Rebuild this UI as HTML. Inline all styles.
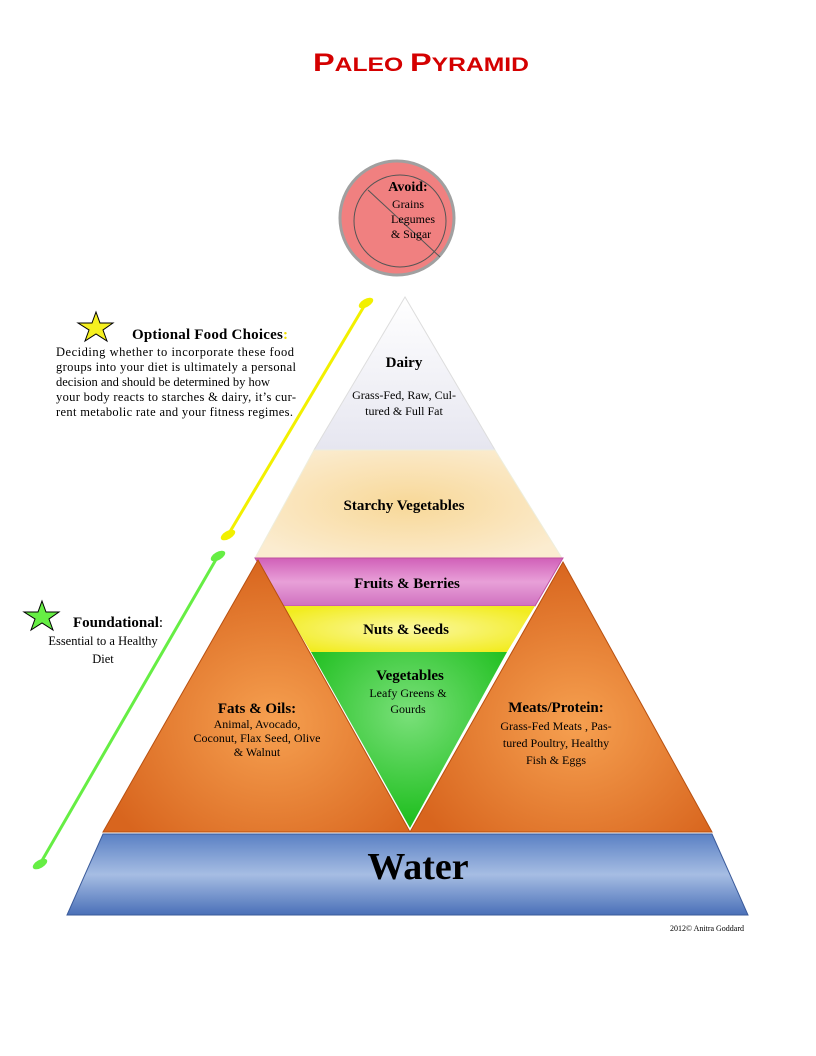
<!DOCTYPE html>
<html><head><meta charset="utf-8"><style>
body{margin:0;background:#fff}
svg{display:block}
text{font-family:"Liberation Serif",serif;fill:#000}
</style></head><body>
<svg width="816" height="1056" viewBox="0 0 816 1056" xmlns="http://www.w3.org/2000/svg">
<defs>
<radialGradient id="org" cx="0.55" cy="0.6" r="0.6"><stop offset="0" stop-color="#f6a050"/><stop offset="1" stop-color="#d8651e"/></radialGradient>
<radialGradient id="grn" cx="0.5" cy="0.35" r="0.6"><stop offset="0" stop-color="#7ae07a"/><stop offset="1" stop-color="#22c022"/></radialGradient>
<linearGradient id="dairy" x1="0" y1="0" x2="0" y2="1"><stop offset="0" stop-color="#ffffff"/><stop offset="1" stop-color="#e6e6f0"/></linearGradient>
<radialGradient id="starch" cx="0.5" cy="0.5" r="0.6"><stop offset="0" stop-color="#f8d898"/><stop offset="1" stop-color="#fbecd0"/></radialGradient>
<linearGradient id="fruit" x1="0" y1="0" x2="0" y2="1"><stop offset="0" stop-color="#d060b8"/><stop offset="0.5" stop-color="#e8a0d8"/><stop offset="1" stop-color="#d070c0"/></linearGradient>
<radialGradient id="nut" cx="0.5" cy="0.5" r="0.6"><stop offset="0" stop-color="#fbf8a0"/><stop offset="1" stop-color="#f2ec20"/></radialGradient>
<linearGradient id="water" x1="0" y1="0" x2="0" y2="1"><stop offset="0" stop-color="#5a80c4"/><stop offset="0.5" stop-color="#a6bde3"/><stop offset="1" stop-color="#4a70b8"/></linearGradient>
</defs>
<text x="313" y="71" font-weight="bold" style="fill:#d40000;font-family:'Liberation Sans',sans-serif" textLength="216" lengthAdjust="spacingAndGlyphs"><tspan font-size="25">P</tspan><tspan font-size="19">ALEO </tspan><tspan font-size="25">P</tspan><tspan font-size="19">YRAMID</tspan></text>

<circle cx="397" cy="218" r="57" fill="#f08080" stroke="#a0a0a0" stroke-width="3"/>
<circle cx="400" cy="221" r="46" fill="none" stroke="#555" stroke-width="1"/>
<line x1="368" y1="190" x2="440" y2="257" stroke="#555" stroke-width="1"/>
<text x="408" y="191" text-anchor="middle" font-weight="bold" font-size="14">Avoid:</text>
<text x="408" y="208" text-anchor="middle" font-size="12">Grains</text>
<text x="413" y="223" text-anchor="middle" font-size="12">Legumes</text>
<text x="411" y="238" text-anchor="middle" font-size="12">&amp; Sugar</text>

<polygon points="405,297 314,450 495,450" fill="url(#dairy)" stroke="#ddd"/>
<polygon points="314,450 495,450 562,558 255,558" fill="url(#starch)" stroke="#eed"/>
<polygon points="255,558 563,558 535,606 283,606" fill="url(#fruit)" stroke="#c050a0"/>
<polygon points="283,606 535,606 507,652 311,652" fill="url(#nut)"/>
<polygon points="311,652 507,652 410,828" fill="url(#grn)"/>
<polygon points="258,560 103,832 410,832" fill="url(#org)" stroke="#b85010"/>
<polygon points="563,562 410,832 712,832" fill="url(#org)" stroke="#b85010"/>
<polygon points="103,834 712,834 748,915 67,915" fill="url(#water)" stroke="#3a5a9a"/>

<line x1="366" y1="303" x2="228" y2="535" stroke="#f2f000" stroke-width="3"/>
<ellipse cx="366" cy="303" rx="8" ry="4" fill="#f2f000" transform="rotate(-30 366 303)"/>
<ellipse cx="228" cy="535" rx="8" ry="4" fill="#f2f000" transform="rotate(-30 228 535)"/>
<line x1="218" y1="556" x2="40" y2="864" stroke="#66ee44" stroke-width="3"/>
<ellipse cx="218" cy="556" rx="8" ry="4" fill="#66ee44" transform="rotate(-30 218 556)"/>
<ellipse cx="40" cy="864" rx="8" ry="4" fill="#66ee44" transform="rotate(-30 40 864)"/>

<polygon points="96,312 100,323 113,323 103,330 107,341 96,334 85,341 89,330 78,323 92,323" fill="#f5f020" stroke="#000"/>
<polygon points="42,601 46,612 59,612 49,619 53,630 42,623 31,630 35,619 24,612 38,612" fill="#66ee44" stroke="#000"/>

<text x="132" y="339" font-weight="bold" font-size="15" textLength="156">Optional Food Choices<tspan style="fill:#f0e000">:</tspan></text>
<text font-size="12.5"><tspan x="56" y="356" textLength="238">Deciding whether to incorporate these food</tspan><tspan x="56" y="371" textLength="240">groups into your diet is ultimately a personal</tspan><tspan x="56" y="386" textLength="214">decision and should be determined by how</tspan><tspan x="56" y="401" textLength="240">your body reacts to starches &amp; dairy, it’s cur-</tspan><tspan x="56" y="416" textLength="237">rent metabolic rate and your fitness regimes.</tspan></text>
<text x="73" y="627" font-weight="bold" font-size="15">Foundational<tspan font-weight="normal">:</tspan></text>
<text x="103" y="645" text-anchor="middle" font-size="12.5">Essential to a Healthy</text>
<text x="103" y="663" text-anchor="middle" font-size="12.5">Diet</text>

<text x="404" y="367" text-anchor="middle" font-weight="bold" font-size="15">Dairy</text>
<text x="404" y="399" text-anchor="middle" font-size="12">Grass-Fed, Raw, Cul-</text>
<text x="404" y="415" text-anchor="middle" font-size="12">tured &amp; Full Fat</text>
<text x="404" y="510" text-anchor="middle" font-weight="bold" font-size="15">Starchy Vegetables</text>
<text x="407" y="588" text-anchor="middle" font-weight="bold" font-size="15">Fruits &amp; Berries</text>
<text x="406" y="634" text-anchor="middle" font-weight="bold" font-size="15">Nuts &amp; Seeds</text>
<text x="410" y="680" text-anchor="middle" font-weight="bold" font-size="15">Vegetables</text>
<text x="408" y="697" text-anchor="middle" font-size="12">Leafy Greens &amp;</text>
<text x="408" y="713" text-anchor="middle" font-size="12">Gourds</text>
<text x="257" y="713" text-anchor="middle" font-weight="bold" font-size="15">Fats &amp; Oils:</text>
<text x="257" y="728" text-anchor="middle" font-size="12">Animal,  Avocado,</text>
<text x="257" y="742" text-anchor="middle" font-size="12">Coconut, Flax Seed,    Olive</text>
<text x="257" y="756" text-anchor="middle" font-size="12">&amp; Walnut</text>
<text x="556" y="712" text-anchor="middle" font-weight="bold" font-size="15">Meats/Protein:</text>
<text x="556" y="730" text-anchor="middle" font-size="12">Grass-Fed Meats , Pas-</text>
<text x="556" y="747" text-anchor="middle" font-size="12">tured Poultry, Healthy</text>
<text x="556" y="764" text-anchor="middle" font-size="12">Fish &amp; Eggs</text>
<text x="418" y="879" text-anchor="middle" font-weight="bold" font-size="38">Water</text>
<text x="707" y="931" text-anchor="middle" font-size="8">2012© Anitra Goddard</text>
</svg>
</body></html>
